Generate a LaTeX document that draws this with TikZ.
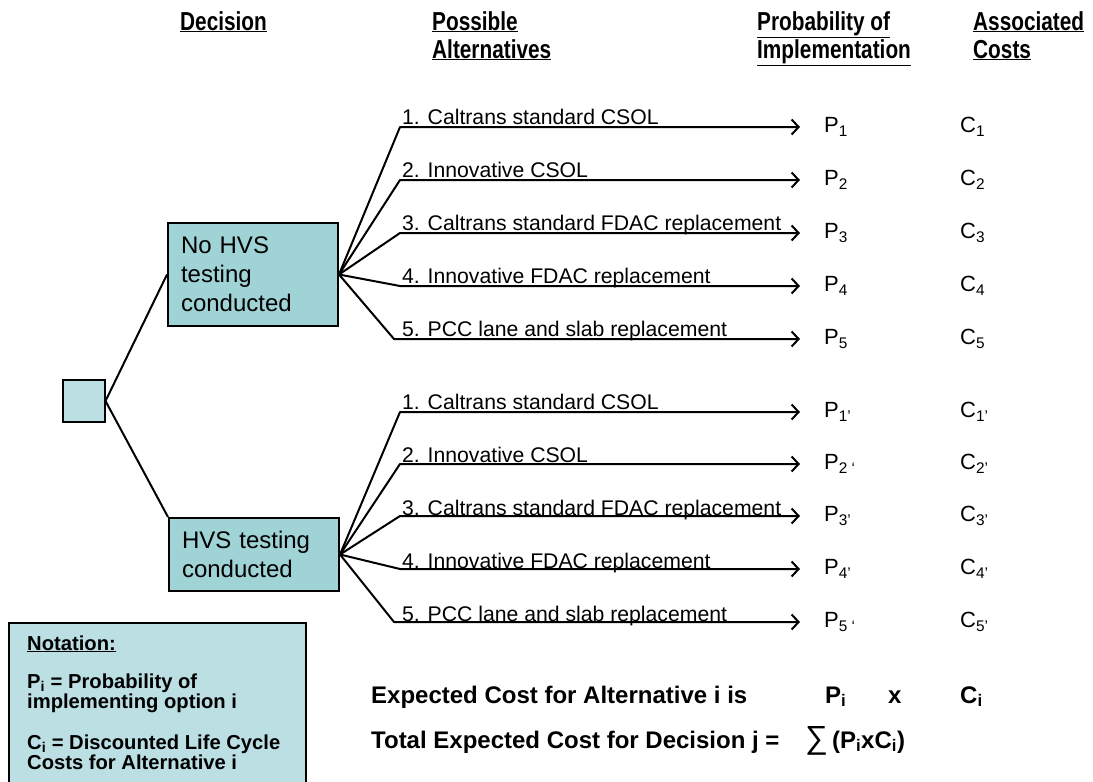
\documentclass[tikz,border=0pt]{standalone}
\usepackage{fontspec}
\setmainfont{Liberation Sans}
\newfontfamily\hdfont[FakeStretch=0.8]{Liberation Sans}
\usetikzlibrary{arrows.meta}
\definecolor{boxteal}{HTML}{9FD3D6}
\definecolor{boxlight}{HTML}{BBDFE3}
\begin{document}
\begin{tikzpicture}[x=1pt,y=-1pt,
  line/.style={line width=2pt, line join=round},
  branch/.style={line, shorten >=24pt, -{Straight Barb[length=7pt,width=15pt,line width=2pt]}},
  decbox/.style={draw, line width=2pt, fill=boxteal, align=left, anchor=north west,
    inner xsep=13pt, text width=144pt, font=\fontsize{24}{29}\selectfont},
  hdr/.style={anchor=north west, align=left, inner sep=0pt, font=\hdfont\bfseries\fontsize{26}{28}\selectfont},
  alt/.style={anchor=base west, inner sep=0pt, font=\fontsize{21.2}{24}\selectfont},
  prob/.style={anchor=west, inner sep=0pt, font=\fontsize{22}{26}\selectfont},
  note/.style={anchor=base west, inner sep=0pt, text height=14pt, text depth=4pt,
    font=\bfseries\fontsize{20.2}{22}\selectfont},
  formula/.style={anchor=base west, inner sep=0pt, font=\bfseries\fontsize{24}{28}\selectfont},
  ]
\useasboundingbox (0,0) rectangle (1093,782);

% column headings
\node[hdr] (hdec) at (180,11) {\underline{Decision}};
\node[hdr] (halt) at (432,11) {\underline{Possible}\\\underline{Alternatives}};
\node[hdr] (hprob) at (757,11) {\underline{Probability of}\\\underline{Implementation}};
\node[hdr] (hcost) at (973,11) {\underline{Associated}\\\underline{Costs}};

% decision nodes
\node[draw, line width=2pt, fill=boxlight, minimum size=42pt, inner sep=0pt] (root) at (83.5,401) {};
\node[decbox, minimum width=170pt, minimum height=103pt] (nohvs) at (167,222) {No HVS\\testing\\conducted};
\node[decbox, minimum width=170pt, minimum height=73pt] (hvs) at (168,517) {HVS testing\\conducted};

\draw[line] (root.east) -- (nohvs.west);
\draw[line] (root.east) -- (hvs.north west);

% probabilities and costs
\foreach \i/\y in {1/127,2/180,3/233,4/286,5/339}{
  \node[prob] (p\i) at (824,\y) {P\textsubscript{\i}};
  \node[prob] (c\i) at (960,\y) {C\textsubscript{\i}};
}
\node[prob] (q1) at (824,412) {P\textsubscript{1’}};
\node[prob] (q2) at (824,464) {P\textsubscript{2 ‘}};
\node[prob] (q3) at (824,516) {P\textsubscript{3’}};
\node[prob] (q4) at (824,569) {P\textsubscript{4’}};
\node[prob] (q5) at (824,622) {P\textsubscript{5 ‘}};
\foreach \i/\y in {1/412,2/464,3/516,4/569,5/622}{
  \node[prob] (d\i) at (960,\y) {C\textsubscript{\i’}};
}

% branches without HVS testing
\foreach \i/\y/\x in {1/127/400,2/180/400,3/233/400,4/286/400,5/339/394}{
  \coordinate (ta\i) at (\x,\y);
  \draw[branch] (nohvs.east) -- (ta\i) -- (p\i.west);
}
% branches with HVS testing
\foreach \i/\y/\x in {1/412/400,2/464/400,3/516/400,4/569/400,5/622/394}{
  \coordinate (tb\i) at (\x,\y);
  \draw[branch] (hvs.east) -- (tb\i) -- (q\i.west);
}

% alternative labels
\foreach \y/\g in {0/a,285/b}{
  \node[alt] (\g1) at (402,124+\y) {1. Caltrans standard CSOL};
  \node[alt] (\g2) at (402,177+\y) {2. Innovative CSOL};
  \node[alt] (\g3) at (402,230+\y) {3. Caltrans standard FDAC replacement};
  \node[alt] (\g4) at (402,283+\y) {4. Innovative FDAC replacement};
  \node[alt] (\g5) at (402,336+\y) {5. PCC lane and slab replacement};
}

% notation panel
\node[draw, line width=2pt, fill=boxlight, anchor=north west, minimum width=297pt,
  minimum height=180pt, inner sep=0pt] (notation) at (8,622) {};
\node[note] (n1) at (27,650) {\underline{Notation:}};
\node[note] (n2) at (27,688) {P\textsubscript{i} = Probability of};
\node[note] (n3) at (27,708) {implementing option i};
\node[note] (n4) at (27,749) {C\textsubscript{i} = Discounted Life Cycle};
\node[note] (n5) at (27,769) {Costs for Alternative i};

% expected cost formulas
\node[formula] (f1) at (371,703) {Expected Cost for Alternative i is};
\node[formula] (fp) at (825,703) {P\textsubscript{i}};
\node[formula] (fx) at (888,703) {x};
\node[formula] (fc) at (960,703) {C\textsubscript{i}};
\node[formula] (f2) at (371,748) {Total Expected Cost for Decision j =};
\node[formula] (fs) at (805,748) {{\fontsize{32}{32}\selectfont\mdseries ∑}\,(P\textsubscript{i}xC\textsubscript{i})};
\end{tikzpicture}
\end{document}
